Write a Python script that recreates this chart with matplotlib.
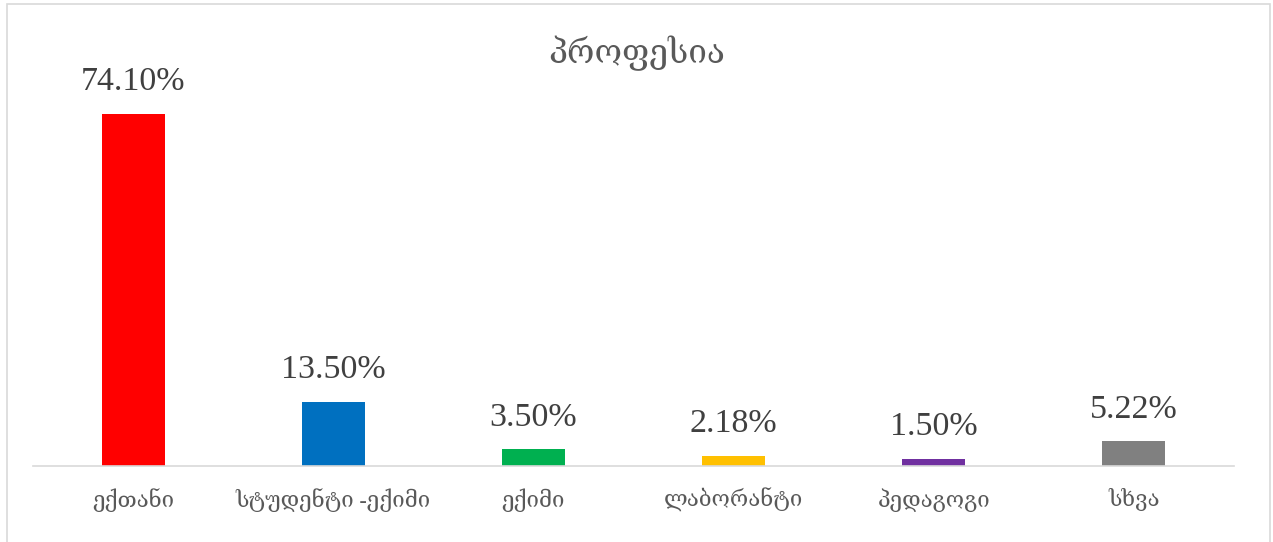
import matplotlib
matplotlib.use("Agg")
import matplotlib.pyplot as plt
from matplotlib.patches import Rectangle

plt.rcParams['font.family'] = ['Liberation Serif', 'DejaVu Serif', 'DejaVu Sans']

# profession shares, percent
categories = ['ექთანი', 'სტუდენტი -ექიმი', 'ექიმი', 'ლაბორანტი', 'პედაგოგი', 'სხვა']
values = [74.10, 13.50, 3.50, 2.18, 1.50, 5.22]
colors = ['#FF0000', '#0070C0', '#00B050', '#FFC000', '#7030A0', '#808080']
title = 'პროფესია'

W, H = 1273, 542
fig = plt.figure(figsize=(W / 100, H / 100), dpi=100)
ax = fig.add_axes([33 / W, (H - 466) / H, 1201 / W, (466 - 86) / H])

x = list(range(len(categories)))
bars = ax.bar(x, values, width=0.315, color=colors, zorder=2)

ax.set_xlim(-0.5, len(categories) - 0.5)
ax.set_ylim(0, 80)
for s in ['top', 'right', 'left']:
    ax.spines[s].set_visible(False)
ax.spines['bottom'].set_color('#D9D9D9')
ax.spines['bottom'].set_linewidth(1.2)
ax.set_yticks([])
ax.set_xticks(x)
ax.set_xticklabels(categories, fontsize=16, color='#595959')
ax.tick_params(axis='x', length=0, pad=16)

for b, v in zip(bars, values):
    ax.annotate(f'{v:.2f}%', (b.get_x() + b.get_width() / 2, v),
                xytext=(0, 12), textcoords='offset points',
                ha='center', va='bottom', fontsize=24.5, color='#404040')

fig.text(0.5, 1 - 53 / H, title, ha='center', va='center',
         fontsize=24, color='#595959')

# light frame around the chart area
fig.patches.append(Rectangle((7 / W, -0.02), (1270 - 7) / W, 1 - 4 / H + 0.02,
                             transform=fig.transFigure, fill=False,
                             edgecolor='#D9D9D9', linewidth=1.2))

fig.savefig('out.png', dpi=100)
